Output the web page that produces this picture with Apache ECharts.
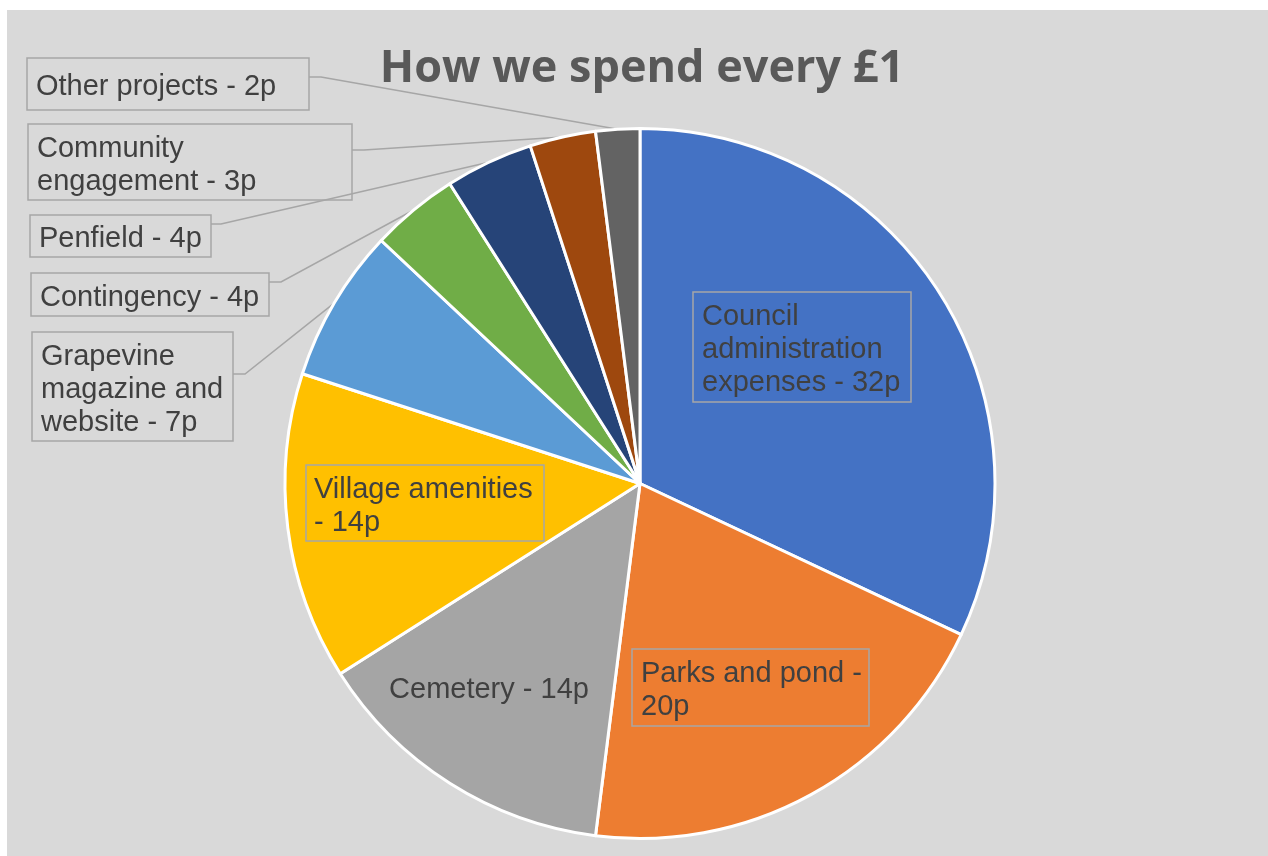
<!DOCTYPE html>
<html><head><meta charset="utf-8">
<script src="https://cdn.jsdelivr.net/npm/echarts@6/dist/echarts.min.js"></script>
<style>html,body{margin:0;padding:0;background:#fff}#c{width:1268px;height:856px}</style>
</head><body><div id="c"></div>
<script>
// ---- data ----
const categories = ['Council administration expenses', 'Parks and pond', 'Cemetery', 'Village amenities',
  'Grapevine magazine and website', 'Contingency', 'Penfield', 'Community engagement', 'Other projects'];
const values = [32, 20, 14, 14, 7, 4, 4, 3, 2];
const colors = ['#4472C4', '#ED7D31', '#A5A5A5', '#FFC000', '#5B9BD5', '#70AD47', '#264478', '#9E480E', '#636363'];
const titleText = 'How we spend every £1';

// ---- label layout (placement of the text boxes, as in the reference) ----
const labelPlacement = [
  { inside: true, x: 693, y: 292, width: 205, padding: [8, 4, 3, 9] },
  { inside: true, x: 632, y: 649, width: 225, padding: [8, 3, 3, 9] },
  { inside: true, x: 489, y: 690, align: 'center', va: 'middle', noBorder: true },
  { inside: true, x: 306, y: 465, width: 224, padding: [8, 6, 2, 8] },
  { x: 32, y: 332, width: 186, padding: [8, 6, 2, 9], elbow: [245, 374], anchor: [233, 374] },
  { x: 31, y: 273, width: 220, padding: [8, 9, 2, 9], elbow: [281, 282], anchor: [269, 282] },
  { x: 30, y: 215, width: 163, padding: [7, 9, 2, 9], elbow: [221, 224], anchor: [211, 224] },
  { x: 28, y: 124, width: 306, padding: [8, 9, 2, 9], elbow: [364, 150], anchor: [352, 150] },
  { x: 27, y: 58, width: 264, padding: [12, 9, 7, 9], elbow: [321, 77], anchor: [309, 77] }
];

const LABEL_FONT = "29px 'Liberation Sans', Arial, sans-serif";
const measureCtx = document.createElement('canvas').getContext('2d');
measureCtx.font = LABEL_FONT;
function wrapText(text, maxWidth) {
  if (!maxWidth) return text;
  const words = text.split(' ');
  const lines = [];
  let cur = '';
  words.forEach(w => {
    const trial = cur ? cur + ' ' + w : w;
    if (cur && measureCtx.measureText(trial).width > maxWidth + 2) {
      lines.push(cur);
      cur = w;
    } else {
      cur = trial;
    }
  });
  if (cur) lines.push(cur);
  return lines.join('\n');
}

const chart = echarts.init(document.getElementById('c'), null, { renderer: 'canvas' });

const data = categories.map((name, i) => {
  const P = labelPlacement[i];
  const label = {
    position: P.inside ? 'inside' : 'outside',
    borderColor: P.noBorder ? 'transparent' : '#A6A6A6',
    borderWidth: P.noBorder ? 0 : 1.5
  };
  if (P.width) label.width = P.width;
  if (P.padding) label.padding = P.padding;
  return {
    name: name,
    value: values[i],
    itemStyle: { color: colors[i] },
    label: label,
    labelLine: { show: !P.inside }
  };
});

chart.setOption({
  backgroundColor: '#ffffff',
  animation: false,
  graphic: [{
    type: 'rect', z: -10, silent: true,
    shape: { x: 7, y: 10, width: 1261, height: 846 },
    style: { fill: '#D9D9D9' }
  }],
  title: {
    text: titleText,
    left: 637,
    textAlign: 'center',
    top: 42,
    textStyle: { fontFamily: 'Open Sans', fontWeight: 'bold', fontSize: 45, color: '#595959' }
  },
  series: [{
    type: 'pie',
    center: [640, 483.5],
    radius: 355,
    startAngle: 90,
    clockwise: true,
    avoidLabelOverlap: false,
    itemStyle: { borderColor: '#ffffff', borderWidth: 3 },
    label: {
      show: true,
      formatter: function (p) {
        return wrapText(p.name + ' - ' + p.value + 'p', labelPlacement[p.dataIndex].width);
      },
      color: '#404040',
      fontFamily: "'Liberation Sans', Arial, sans-serif",
      fontSize: 29,
      lineHeight: 33,
      overflow: 'none',
      align: 'left'
    },
    labelLine: {
      show: true,
      lineStyle: { color: '#A6A6A6', width: 1.5 }
    },
    labelLayout: function (p) {
      const P = labelPlacement[p.dataIndex];
      const out = { x: P.x, y: P.y, align: P.align || 'left', verticalAlign: P.va || 'top' };
      if (P.anchor && p.labelLinePoints) {
        out.labelLinePoints = [p.labelLinePoints[0], P.elbow, P.anchor];
      }
      return out;
    },
    data: data
  }]
});
</script>
</body></html>
